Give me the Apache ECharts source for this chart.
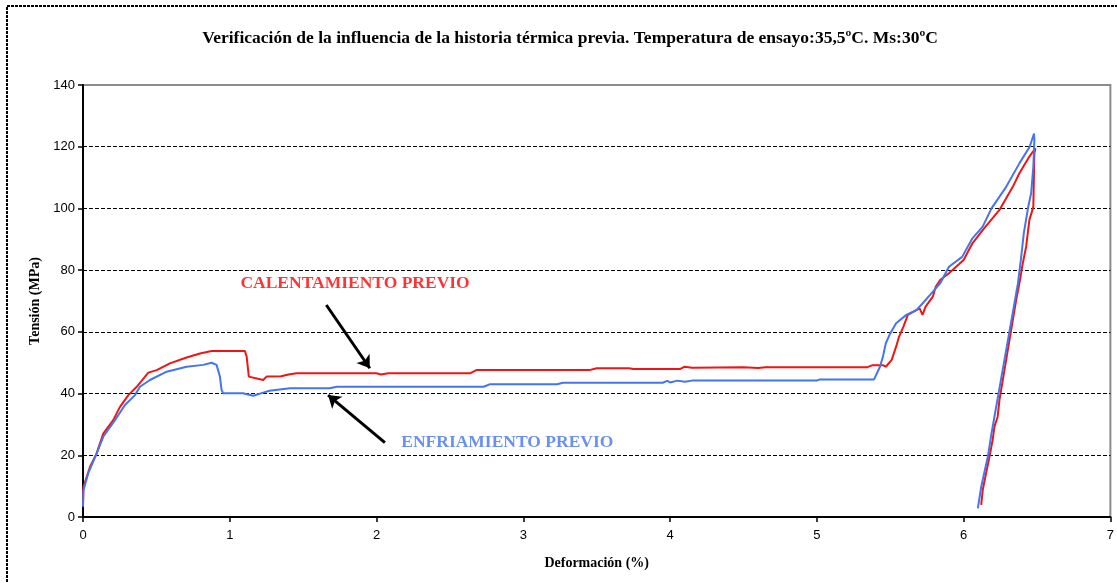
<!DOCTYPE html>
<html>
<head>
<meta charset="utf-8">
<script src="https://cdn.jsdelivr.net/npm/echarts@6/dist/echarts.min.js"></script>
<style>
html,body{margin:0;padding:0;background:#fff;}
#chart{width:1117px;height:583px;}
</style>
</head>
<body>
<div id="chart"></div>
<script>
// ---- data ----
const titleText = 'Verificación de la influencia de la historia térmica previa. Temperatura de ensayo:35,5ºC. Ms:30ºC';
const xName = 'Deformación (%)';
const yName = 'Tensión (MPa)';

// CALENTAMIENTO PREVIO (red): [deformación %, tensión MPa]
const calentamiento = [
  [0,4.5],[0.003,9.8],[0.048,16.3],[0.093,20.6],[0.138,27],[0.206,31.4],[0.252,35.7],[0.309,39.5],
  [0.366,42.2],[0.445,46.8],[0.502,47.6],[0.592,49.8],[0.706,51.7],[0.797,53],[0.876,53.8],
  [1.103,53.8],[1.115,52],[1.13,45.5],[1.228,44.4],[1.25,45.5],[1.35,45.6],[1.40,46.2],[1.455,46.6],
  [2.0,46.6],[2.03,46.2],[2.08,46.6],[2.64,46.6],[2.68,47.6],[3.45,47.6],[3.5,48.2],[3.72,48.2],
  [3.75,48.0],[4.07,48.0],[4.1,48.7],[4.15,48.4],[4.5,48.5],[4.6,48.3],[4.65,48.5],[5.34,48.5],
  [5.38,49.2],[5.45,49.2],[5.47,48.7],[5.51,50.9],[5.54,55.2],[5.56,58.4],[5.59,61.7],[5.62,65.5],
  [5.70,67.6],[5.72,65.5],[5.74,68.1],[5.79,71.4],[5.81,74.6],[5.84,76.8],[5.90,79],[6.0,83.3],
  [6.06,88.7],[6.13,93],[6.244,99.5],[6.335,107],[6.38,111.4],[6.448,116.8],[6.489,119.5],
  [6.482,117.8],[6.475,100.5],[6.448,96.2],[6.426,87.6],[6.403,82.2],[6.38,75.7],[6.358,70.3],
  [6.244,37.9],[6.232,32.5],[6.21,29.3],[6.198,25],[6.176,19.5],[6.153,14.2],[6.13,8.7],[6.12,3.9]
];

// ENFRIAMIENTO PREVIO (blue)
const enfriamiento = [
  [0,3.3],[0.003,8.7],[0.036,14.2],[0.093,20.6],[0.138,26],[0.218,31.4],[0.286,36.3],[0.354,39.5],
  [0.388,42.2],[0.456,44.4],[0.57,47.1],[0.706,48.7],[0.82,49.3],[0.876,50],[0.91,49.3],[0.933,45.5],
  [0.944,41.2],[0.955,40.1],[1.09,40.1],[1.16,39.3],[1.228,40.3],[1.27,40.9],[1.41,41.7],[1.68,41.7],
  [1.73,42.2],[2.73,42.2],[2.77,43],[3.23,43],[3.27,43.5],[3.95,43.5],[3.98,44.1],[4.0,43.6],
  [4.05,44.2],[4.1,43.8],[4.15,44.2],[5.0,44.2],[5.02,44.6],[5.39,44.6],[5.43,48.7],[5.45,51.9],
  [5.47,56.3],[5.50,59.5],[5.54,62.8],[5.61,65.5],[5.68,67.1],[5.72,69.2],[5.77,71.9],[5.84,75.7],
  [5.90,81.1],[5.99,84.3],[6.06,90.3],[6.13,94.1],[6.19,100],[6.29,107],[6.38,114.6],[6.45,120],
  [6.48,124.3],[6.482,122],[6.475,113.5],[6.46,104.9],[6.44,100.5],[6.41,91.9],[6.39,83.3],
  [6.37,75.7],[6.35,70.3],[6.23,37.9],[6.21,32.5],[6.19,27.1],[6.165,19.5],[6.14,14.2],[6.12,9.8],[6.097,2.8]
];

// annotation texts and arrows (data coordinates)
const annotations = [
  {name:'CALENTAMIENTO PREVIO', value:[1.069,75.8], color:'#ff0000'},
  {name:'ENFRIAMIENTO PREVIO', value:[2.165,24.0], color:'#4474ee'}
];
const arrows = [
  [[1.658,68.7],[1.954,48.2]],
  [[2.057,24.1],[1.67,39.5]]
];

// ---- chart ----
const chart = echarts.init(document.getElementById('chart'), null, {renderer:'canvas'});
const serif = '"Liberation Serif","Times New Roman",serif';
const sans = '"Liberation Sans",Arial,sans-serif';

chart.setOption({
  animation:false,
  backgroundColor:'#fff',
  title:{
    text:titleText,
    left:570, top:29, textAlign:'center', padding:0,
    textStyle:{fontFamily:serif, fontWeight:'bold', fontSize:17.5, color:'#000'}
  },
  grid:{left:83, right:6, top:85, bottom:66, show:true, borderColor:'#8c8c8c', borderWidth:2},
  xAxis:{
    type:'value', min:0, max:7, interval:1,
    name:xName, nameLocation:'middle', nameGap:39,
    nameTextStyle:{fontFamily:serif, fontWeight:'bold', fontSize:14, color:'#000'},
    axisLine:{show:true, onZero:false, lineStyle:{color:'#000', width:2}},
    axisTick:{show:true, length:5, lineStyle:{color:'#000', width:1.5}},
    axisLabel:{fontFamily:sans, fontSize:13, color:'#000', margin:12},
    splitLine:{show:false}
  },
  yAxis:{
    type:'value', min:0, max:140, interval:20,
    name:yName, nameLocation:'middle', nameGap:35, nameRotate:90,
    nameTextStyle:{fontFamily:serif, fontWeight:'bold', fontSize:14, color:'#000'},
    axisLine:{show:true, lineStyle:{color:'#000', width:2}},
    axisTick:{show:true, length:5, lineStyle:{color:'#000', width:1.5}},
    axisLabel:{fontFamily:sans, fontSize:13, color:'#000', margin:8},
    splitLine:{show:true, showMaxLine:false, lineStyle:{color:'#000', width:1, type:[4,2]}}
  },
  graphic:[{
    type:'rect', silent:true, z:100,
    shape:{x:7, y:6, width:1130, height:600},
    style:{fill:'none', stroke:'#000', lineWidth:2, lineDash:[3,1]}
  }],
  series:[
    {
      name:'CALENTAMIENTO PREVIO', type:'line', data:calentamiento,
      showSymbol:false, smooth:false, z:3,
      lineStyle:{color:'#f01414', width:2}
    },
    {
      name:'ENFRIAMIENTO PREVIO', type:'line', data:enfriamiento,
      showSymbol:false, smooth:false, z:4,
      lineStyle:{color:'#4474ee', width:2}
    },
    {
      type:'lines', coordinateSystem:'cartesian2d', z:5,
      symbol:['none','arrow'], symbolSize:12,
      lineStyle:{color:'#000', width:3, opacity:1, curveness:0},
      data:arrows.map(a=>({coords:a}))
    },
    {
      type:'scatter', z:6, symbol:'circle', symbolSize:1,
      itemStyle:{color:'transparent'},
      data:annotations.map(a=>({
        name:a.name, value:a.value,
        label:{show:true, position:'right', distance:0, formatter:'{b}',
          fontFamily:serif, fontWeight:'bold', fontSize:17.5, color:a.color}
      }))
    }
  ]
});
</script>
</body>
</html>
